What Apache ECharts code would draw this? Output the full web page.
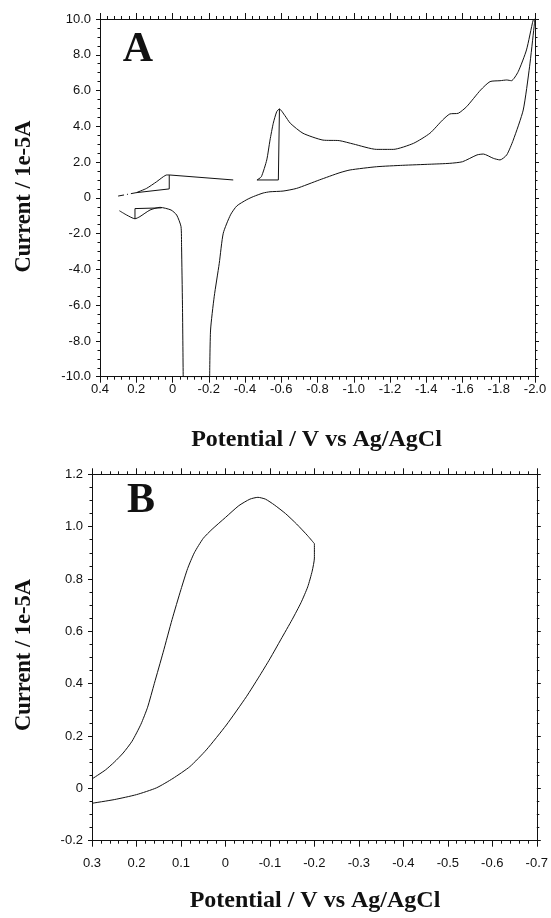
<!DOCTYPE html>
<html>
<head>
<meta charset="utf-8">
<title>Cyclic voltammograms</title>
<script src="https://cdn.jsdelivr.net/npm/echarts@6/dist/echarts.min.js"></script>
<style>
  html, body { margin: 0; padding: 0; background: #fff; }
  #chart { width: 551px; height: 918px; }
</style>
</head>
<body>
<div id="chart"></div>
<script>
// ---- Panel A: wide scan, potential (V vs Ag/AgCl) vs current (1e-5 A) ----
const aXTicks = ['-2.0', '-1.8', '-1.6', '-1.4', '-1.2', '-1.0', '-0.8', '-0.6', '-0.4', '-0.2', '0', '0.2', '0.4'];
const aYTicks = ['-10.0', '-8.0', '-6.0', '-4.0', '-2.0', '0', '2.0', '4.0', '6.0', '8.0', '10.0'];

// initial step of the scan (sparse points)
const aStart = [[0.30, 0.10], [0.20, 0.29]];
// first anodic rise
const aAnodic = [[0.20, 0.29], [0.143, 0.53], [0.088, 0.90], [0.051, 1.18], [0.032, 1.28], [0.018, 1.28]];
// plateau to the break in the record
const aPlateau = [[0.018, 1.28], [-0.335, 1.0]];
// current-range switch artefact near 0 V
const aStep = [[0.20, 0.29], [0.018, 0.50], [0.018, 1.28]];
// step at the restart of the negative sweep
const aRestart = [[-0.466, 1.0], [-0.584, 1.0], [-0.59, 4.97]];
// negative sweep up to the turning potential
const aForward = [
  [-0.466, 1.0], [-0.49, 1.18], [-0.52, 2.12], [-0.538, 3.23], [-0.556, 4.17], [-0.575, 4.82], [-0.59, 4.97],
  [-0.62, 4.6], [-0.65, 4.17], [-0.72, 3.61], [-0.83, 3.23], [-0.92, 3.2], [-0.998, 3.01], [-1.126, 2.71],
  [-1.218, 2.71], [-1.33, 3.05], [-1.42, 3.61], [-1.49, 4.35], [-1.53, 4.69], [-1.577, 4.73], [-1.623, 5.1],
  [-1.70, 6.03], [-1.752, 6.5], [-1.807, 6.55], [-1.844, 6.59], [-1.87, 6.55], [-1.907, 7.05], [-1.953, 8.27],
  [-1.99, 9.94], [-2.0, 10.0]
];
// return sweep down to the cathodic limit of the current range
const aReturn = [
  [-2.0, 10.0], [-1.995, 9.57], [-1.97, 7.33], [-1.935, 4.91], [-1.88, 3.23], [-1.844, 2.40], [-1.807, 2.12],
  [-1.77, 2.21], [-1.715, 2.45], [-1.68, 2.40], [-1.6, 2.02], [-1.53, 1.93], [-1.42, 1.88], [-1.27, 1.82],
  [-1.126, 1.74], [-0.98, 1.56], [-0.924, 1.41], [-0.81, 1.0], [-0.685, 0.53], [-0.61, 0.38], [-0.538, 0.34],
  [-0.5, 0.27], [-0.446, 0.07], [-0.41, -0.1], [-0.355, -0.45], [-0.32, -0.95], [-0.28, -1.98],
  [-0.258, -3.66], [-0.23, -5.53], [-0.21, -7.39], [-0.205, -10.0]
];
// overload floor
const aFloor = [[-0.205, -10.0], [-0.059, -10.0]];
// recovery and the small wave back to +0.3 V
const aTail = [
  [-0.059, -10.0], [-0.055, -6.0], [-0.05, -2.73], [-0.047, -1.61], [-0.023, -0.96], [0.008, -0.68],
  [0.069, -0.53], [0.124, -0.68], [0.18, -1.05], [0.207, -1.17], [0.253, -0.96], [0.293, -0.72]
];
// range switch artefact on the return sweep
const aBox = [[0.207, -1.17], [0.207, -0.60], [0.06, -0.56]];

// ---- Panel B: narrow scan ----
const bXTicks = ['-0.7', '-0.6', '-0.5', '-0.4', '-0.3', '-0.2', '-0.1', '0', '0.1', '0.2', '0.3'];
const bYTicks = ['-0.2', '0', '0.2', '0.4', '0.6', '0.8', '1.0', '1.2'];
const bForward = [
  [0.3, 0.036], [0.27, 0.07], [0.25, 0.10], [0.23, 0.135], [0.21, 0.18], [0.19, 0.245], [0.175, 0.31],
  [0.16, 0.40], [0.14, 0.52], [0.12, 0.645], [0.10, 0.76], [0.085, 0.84], [0.07, 0.90], [0.05, 0.955],
  [0.03, 0.99], [0.0, 1.035], [-0.03, 1.08], [-0.055, 1.105], [-0.073, 1.112], [-0.09, 1.105],
  [-0.11, 1.083], [-0.135, 1.05], [-0.16, 1.01], [-0.185, 0.965], [-0.2, 0.935]
];
const bReturn = [
  [-0.2, 0.935], [-0.2, 0.88], [-0.195, 0.83], [-0.185, 0.77], [-0.17, 0.71], [-0.15, 0.645],
  [-0.125, 0.57], [-0.1, 0.495], [-0.075, 0.425], [-0.047, 0.35], [-0.002, 0.242], [0.043, 0.147],
  [0.08, 0.083], [0.118, 0.038], [0.155, 0.002], [0.2, -0.024], [0.25, -0.043], [0.3, -0.057]
];

const INK = '#111';
const tickFont = { fontFamily: 'Liberation Sans, Arial, sans-serif', fontSize: 13, color: INK };

function labelFrom(ticks, min, step) {
  return function (v) {
    const i = Math.round((v - min) / step);
    return ticks[i] !== undefined ? ticks[i] : '';
  };
}

function xPair(grid, min, max, step, ticks, margin) {
  const base = {
    type: 'value', gridIndex: grid, min: min, max: max, interval: step, inverse: true,
    axisLine: { show: true, onZero: false, lineStyle: { color: INK, width: 1 } },
    axisTick: { show: true, inside: false, length: 6, lineStyle: { color: INK } },
    minorTick: { show: true, splitNumber: 5, length: 3, lineStyle: { color: INK } },
    splitLine: { show: false }, minorSplitLine: { show: false }
  };
  return [
    Object.assign({}, base, { position: 'bottom',
      axisLabel: Object.assign({ show: true, margin: margin, formatter: labelFrom(ticks, min, step) }, tickFont) }),
    Object.assign({}, base, { position: 'top', axisLabel: { show: false } })
  ];
}

function yPair(grid, min, max, step, ticks) {
  const base = {
    type: 'value', gridIndex: grid, min: min, max: max, interval: step,
    axisLine: { show: true, onZero: false, lineStyle: { color: INK, width: 1 } },
    axisTick: { show: true, inside: false, length: 4, lineStyle: { color: INK } },
    minorTick: { show: true, splitNumber: 4, length: 2.5, lineStyle: { color: INK } },
    splitLine: { show: false }, minorSplitLine: { show: false }
  };
  return [
    Object.assign({}, base, { position: 'left',
      axisLabel: Object.assign({ show: true, margin: 9, formatter: labelFrom(ticks, min, step) }, tickFont) }),
    Object.assign({}, base, { position: 'right', axisLabel: { show: false } })
  ];
}

function trace(data, grid, opts) {
  opts = opts || {};
  return {
    type: 'line', data: data, xAxisIndex: grid * 2, yAxisIndex: grid * 2,
    showSymbol: false, symbol: 'none', smooth: opts.smooth || false, clip: true,
    lineStyle: { color: INK, width: 1, type: opts.dashed ? [6, 3, 1, 3] : 'solid' },
    emphasis: { disabled: true }, silent: true
  };
}

const serif = 'bold {s}px "Liberation Serif", "Times New Roman", serif';
function label(text, x, y, size, rot) {
  return {
    type: 'text', x: x, y: y, rotation: rot || 0, silent: true,
    style: { text: text, font: serif.replace('{s}', size), fill: INK, align: 'center', verticalAlign: 'middle' }
  };
}

const chart = echarts.init(document.getElementById('chart'), null, { renderer: 'canvas' });
chart.setOption({
  animation: false,
  backgroundColor: '#fff',
  grid: [
    { left: 100, top: 19, width: 435, height: 357.7 },
    { left: 92, top: 474.3, width: 445.7, height: 366.4 }
  ],
  xAxis: xPair(0, -2.0, 0.4, 0.2, aXTicks, 6).concat(xPair(1, -0.7, 0.3, 0.1, bXTicks, 16)),
  yAxis: yPair(0, -10, 10, 2, aYTicks).concat(yPair(1, -0.2, 1.2, 0.2, bYTicks)),
  series: [
    trace(aStart, 0, { dashed: true }),
    trace(aAnodic, 0, { smooth: 0.2 }),
    trace(aPlateau, 0),
    trace(aStep, 0),
    trace(aRestart, 0),
    trace(aForward, 0, { smooth: 0.2 }),
    trace(aReturn, 0, { smooth: 0.2 }),
    trace(aFloor, 0),
    trace(aTail, 0, { smooth: 0.2 }),
    trace(aBox, 0),
    trace(bForward, 1, { smooth: 0.2 }),
    trace(bReturn, 1, { smooth: 0.2 })
  ],
  graphic: [
    label('A', 138, 50, 42),
    label('B', 141, 501, 42),
    label('Potential / V vs Ag/AgCl', 316.5, 440, 24),
    label('Potential / V vs Ag/AgCl', 315, 901, 24),
    label('Current / 1e-5A', 24, 196.5, 22.5, Math.PI / 2),
    label('Current / 1e-5A', 24, 655, 22.5, Math.PI / 2)
  ]
});
</script>
</body>
</html>
